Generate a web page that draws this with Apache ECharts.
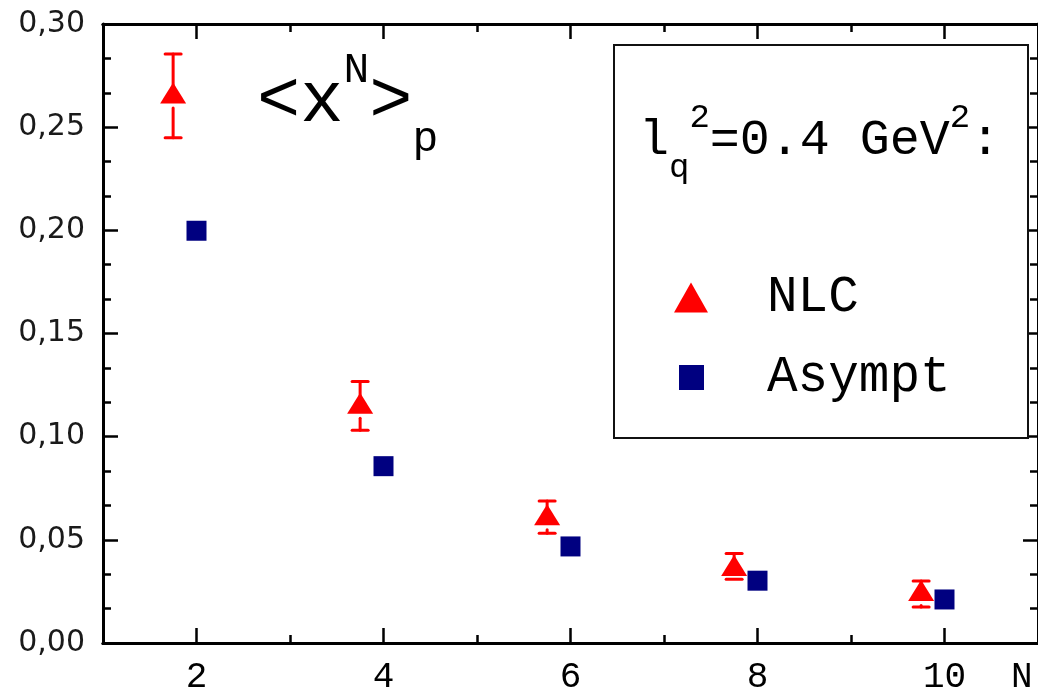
<!DOCTYPE html>
<html>
<head>
<meta charset="utf-8">
<script src="https://cdn.jsdelivr.net/npm/echarts@6/dist/echarts.min.js"></script>
<style>
html,body{margin:0;padding:0;background:#fff;}
#chart{width:1038px;height:695px;}
</style>
</head>
<body>
<div id="chart"></div>
<script>
// ---- data ----
const nValues = [2, 4, 6, 8, 10];
const nlcN = [1.75, 3.75, 5.75, 7.75, 9.75];
const nlcValues = [0.2665, 0.1162, 0.0622, 0.0376, 0.0254];
const nlcLow = [0.2449, 0.1031, 0.0532, 0.0309, 0.0174];
const nlcHigh = [0.2854, 0.1267, 0.0688, 0.0434, 0.0300];
const asymptValues = [0.1998, 0.0857, 0.0468, 0.0302, 0.0211];
const xMajorTicks = [2, 4, 6, 8, 10];
const xMinorTicks = [3, 5, 7, 9];
const seriesNames = ['NLC', 'Asympt'];

const MONO = '"Liberation Mono", "DejaVu Sans Mono", monospace';
const RED = '#ff0000';
const NAVY = '#000080';

const nlcData = nlcN.map((x, i) => [x, nlcValues[i]]);
const errData = nlcN.map((x, i) => [x, nlcLow[i], nlcHigh[i], nlcValues[i]]);
const asymptData = nValues.map((x, i) => [x, asymptValues[i]]);

const chart = echarts.init(document.getElementById('chart'), null, {renderer: 'canvas'});

const axisLineStyle = {color: '#000', width: 3};
function xAxisBase(pos, ticks, len, labels) {
  return {
    type: 'value', min: 1, max: 11, position: pos,
    axisLine: {show: true, lineStyle: axisLineStyle, onZero: false},
    axisTick: {show: true, inside: true, length: len, customValues: ticks,
               lineStyle: {color: '#000', width: 2.5}},
    axisLabel: labels ? {show: true, customValues: ticks, margin: 16,
               fontFamily: MONO, fontSize: 36, color: '#000'} : {show: false},
    splitLine: {show: false}
  };
}
function yAxisBase(pos, labels) {
  return {
    type: 'value', min: 0, max: 0.3, interval: 0.05, position: pos,
    axisLine: {show: true, lineStyle: axisLineStyle, onZero: false},
    axisTick: {show: true, inside: true, length: 15, lineStyle: {color: '#000', width: 2.5}},
    minorTick: {show: true, splitNumber: 3, length: 8, lineStyle: {color: '#000', width: 2.5}},
    axisLabel: labels ? {show: true, margin: 18, fontFamily: '"DejaVu Sans", sans-serif',
               fontSize: 30, color: '#1a1a1a',
               formatter: v => v.toFixed(2).replace('.', ',')} : {show: false},
    splitLine: {show: false}, minorSplitLine: {show: false}
  };
}

const xBottom = xAxisBase('bottom', xMajorTicks, 15, true);
xBottom.name = 'N';
xBottom.nameLocation = 'end';
xBottom.nameGap = -27;
xBottom.nameTextStyle = {fontFamily: MONO, fontSize: 36, color: '#000',
                         align: 'left', verticalAlign: 'top', padding: [16, 0, 0, 0]};

const option = {
  backgroundColor: '#fff',
  animation: false,
  grid: {left: 103, top: 24, width: 938, height: 622, containLabel: false},
  xAxis: [
    xBottom,
    xAxisBase('bottom', xMinorTicks, 8, false),
    xAxisBase('top', xMajorTicks, 15, false),
    xAxisBase('top', xMinorTicks, 8, false)
  ],
  yAxis: [yAxisBase('left', true), yAxisBase('right', false)],
  legend: [
    {
      left: 669, top: 267, orient: 'vertical', itemWidth: 34, itemHeight: 30,
      selectedMode: false,
      data: [{name: seriesNames[0], icon: 'triangle'}],
      textStyle: {fontFamily: MONO, fontSize: 51, color: '#000', lineHeight: 30,
                  padding: [16, 0, 0, 54]}
    },
    {
      left: 674, top: 347, orient: 'vertical', itemWidth: 25, itemHeight: 25,
      selectedMode: false,
      data: [{name: seriesNames[1], icon: 'rect'}],
      textStyle: {fontFamily: MONO, fontSize: 51, color: '#000', lineHeight: 25,
                  padding: [10, 0, 0, 58]}
    }
  ],
  graphic: [
    {
      type: 'rect', left: 613, top: 44, z: 1,
      shape: {x: 0, y: 0, width: 414, height: 393},
      style: {fill: '#fff', stroke: '#111', lineWidth: 2}
    },
    {
      type: 'text', x: 639, y: 95, z: 10,
      style: {
        text: '{m|l}{s|q}{p|2}{m|=0.4 GeV}{p|2}{m|:}',
        align: 'left', verticalAlign: 'top', fill: '#000',
        rich: {
          m: {fontFamily: MONO, fontSize: 50, verticalAlign: 'top', height: 92, fill: '#000'},
          p: {fontFamily: MONO, fontSize: 34, verticalAlign: 'top', height: 46, fill: '#000'},
          s: {fontFamily: MONO, fontSize: 34, verticalAlign: 'top', height: 146, fill: '#000'}
        }
      }
    },
    {
      type: 'text', x: 257, y: 40, z: 10,
      style: {
        text: '{m|<x}{p|N}{m|>}{s|p}',
        align: 'left', verticalAlign: 'top', fill: '#000',
        rich: {
          m: {fontFamily: MONO, fontSize: 72, verticalAlign: 'top', height: 124, fill: '#000'},
          p: {fontFamily: MONO, fontSize: 43, verticalAlign: 'top', height: 62, fill: '#000'},
          s: {fontFamily: MONO, fontSize: 43, verticalAlign: 'top', height: 200, fill: '#000'}
        }
      }
    }
  ],
  series: [
    {
      name: 'NLC error', type: 'custom', xAxisIndex: 0, yAxisIndex: 0, z: 3,
      data: errData, silent: true,
      renderItem: function (params, api) {
        const x = api.value(0);
        const pLo = api.coord([x, api.value(1)]);
        const pHi = api.coord([x, api.value(2)]);
        const pV = api.coord([x, api.value(3)]);
        const st = {stroke: RED, lineWidth: 3, lineCap: 'round'};
        const cap = 8;
        const kids = [
          {type: 'line', shape: {x1: pV[0], y1: pV[1] - 8, x2: pHi[0], y2: pHi[1]}, style: st},
          {type: 'line', shape: {x1: pHi[0] - cap, y1: pHi[1], x2: pHi[0] + cap, y2: pHi[1]}, style: st},
          {type: 'line', shape: {x1: pLo[0] - cap, y1: pLo[1], x2: pLo[0] + cap, y2: pLo[1]}, style: st}
        ];
        if (pLo[1] > pV[1] + 15) {
          kids.push({type: 'line', shape: {x1: pV[0], y1: pV[1] + 15, x2: pLo[0], y2: pLo[1]}, style: st});
        }
        return {type: 'group', children: kids};
      }
    },
    {
      name: seriesNames[0], type: 'scatter', xAxisIndex: 0, yAxisIndex: 0, z: 4,
      symbol: 'triangle', symbolSize: [26, 21],
      itemStyle: {color: RED, opacity: 1},
      data: nlcData
    },
    {
      name: seriesNames[1], type: 'scatter', xAxisIndex: 0, yAxisIndex: 0, z: 4,
      symbol: 'rect', symbolSize: 20,
      itemStyle: {color: NAVY, opacity: 1},
      data: asymptData
    }
  ]
};
chart.setOption(option);
</script>
</body>
</html>
